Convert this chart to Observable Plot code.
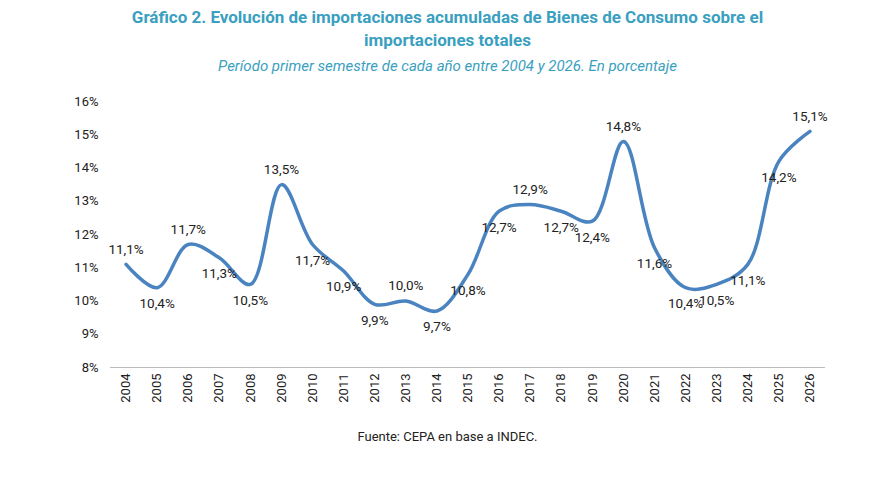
<!DOCTYPE html>
<html><head><meta charset="utf-8">
<script src="https://cdn.jsdelivr.net/npm/d3@7"></script>
<script src="https://cdn.jsdelivr.net/npm/@observablehq/plot@0.6"></script>
<style>
body{margin:0;background:#fff;font-family:Roboto,"Noto Sans",sans-serif;width:895px}
.t{color:#3a9fc0;font-weight:bold;font-size:17px;text-align:center;line-height:23px;margin:6px auto 0;width:700px}
.s{color:#3a9fc0;font-style:italic;font-size:15px;text-align:center;margin-top:5px}
.c{font-size:13px;text-align:center;color:#222;margin-top:4px}
</style></head><body>
<div class="t">Gráfico 2. Evolución de importaciones acumuladas de Bienes de Consumo sobre el importaciones totales</div>
<div class="s">Período primer semestre de cada año entre 2004 y 2026. En porcentaje</div>
<div id="chart"></div>
<div class="c">Fuente: CEPA en base a INDEC.</div>
<script>
const years = d3.range(2004, 2027);
const values = [11.1,10.4,11.7,11.3,10.5,13.5,11.7,10.9,9.9,10.0,9.7,10.8,12.7,12.9,12.7,12.4,14.8,11.6,10.4,10.5,11.1,14.2,15.1];
const yTicks = [8,9,10,11,12,13,14,15,16];
const data = years.map((y,i)=>({year:y, v:values[i], lab:values[i].toFixed(1).replace(".",",")+"%",
  up: (i===0||values[i]>=values[i-1]) && (i===values.length-1||values[i]>=values[i+1])}));
const chart = Plot.plot({
  width:895, height:350, marginTop:26, marginBottom:58, marginLeft:110, marginRight:70,
  style:{fontFamily:"Roboto, sans-serif", fontSize:"13px", color:"#222"},
  x:{domain:[2003.5,2026.5], ticks:years, tickFormat:d=>String(d), tickRotate:-90, tickSize:0, label:null, tickPadding:6},
  y:{domain:[8,16], ticks:yTicks, tickFormat:d=>d+"%", tickSize:0, label:null, tickPadding:12},
  marks:[
    Plot.ruleY([8],{stroke:"#bbb"}),
    Plot.line(data,{x:"year",y:"v",curve:"catmull-rom",stroke:"#4a84c0",strokeWidth:3.5}),
    Plot.text(data.filter(d=>d.up),{x:"year",y:"v",text:"lab",dy:-15,fontSize:13.5,fill:"#222"}),
    Plot.text(data.filter(d=>!d.up),{x:"year",y:"v",text:"lab",dy:16,fontSize:13.5,fill:"#222"})
  ]
});
document.getElementById("chart").append(chart);
</script></body></html>
